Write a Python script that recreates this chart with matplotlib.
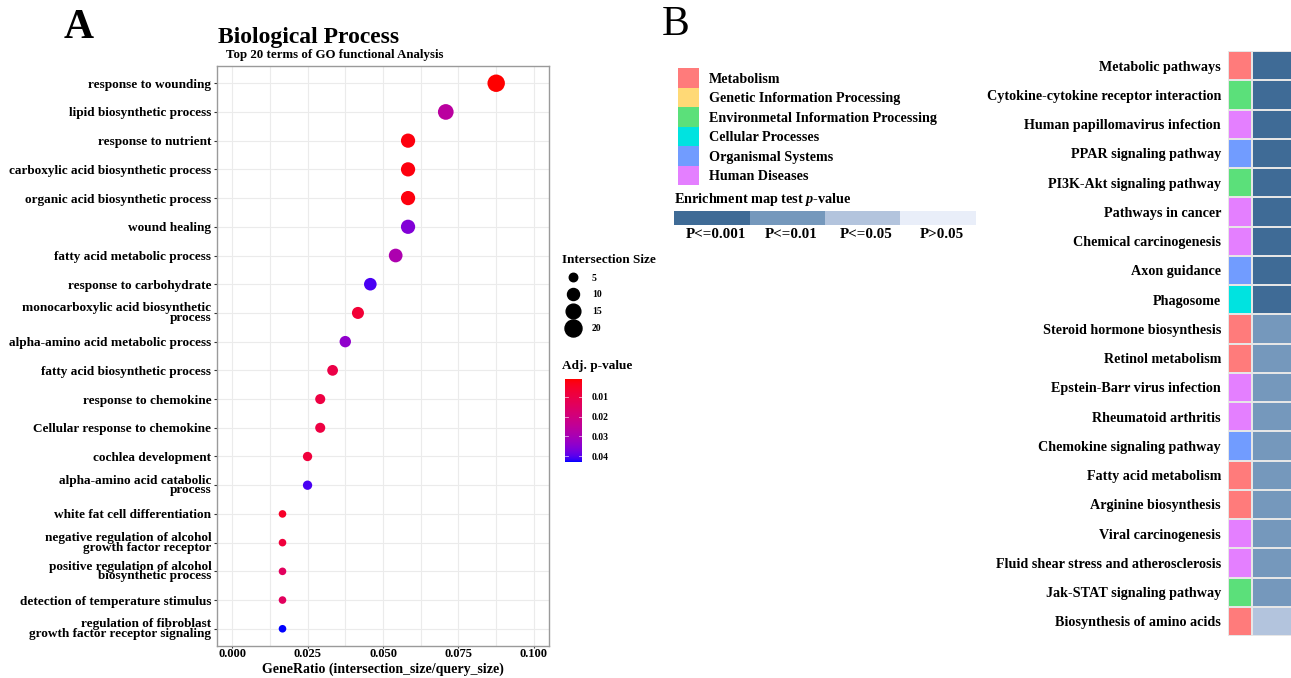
import numpy as np
import matplotlib
matplotlib.use("Agg")
import matplotlib.pyplot as plt
from matplotlib.colors import LinearSegmentedColormap, ListedColormap, Normalize
from matplotlib.lines import Line2D

plt.rcParams['font.family'] = ['Liberation Serif', 'DejaVu Serif']
plt.rcParams['font.weight'] = 'bold'
plt.rcParams['mathtext.fontset'] = 'custom'
plt.rcParams['mathtext.it'] = 'Liberation Serif:italic:bold'
plt.rcParams['mathtext.rm'] = 'Liberation Serif:bold'

# ---------------- Panel A data ----------------
go_terms = [
    "response to wounding",
    "lipid biosynthetic process",
    "response to nutrient",
    "carboxylic acid biosynthetic process",
    "organic acid biosynthetic process",
    "wound healing",
    "fatty acid metabolic process",
    "response to carbohydrate",
    "monocarboxylic acid biosynthetic\nprocess",
    "alpha-amino acid metabolic process",
    "fatty acid biosynthetic process",
    "response to chemokine",
    "Cellular response to chemokine",
    "cochlea development",
    "alpha-amino acid catabolic\nprocess",
    "white fat cell differentiation",
    "negative regulation of alcohol\ngrowth factor receptor",
    "positive regulation of alcohol\nbiosynthetic process",
    "detection of temperature stimulus",
    "regulation of fibroblast\ngrowth factor receptor signaling",
]
gene_ratio = [0.0875, 0.0708, 0.0583, 0.0583, 0.0583, 0.0583, 0.0542, 0.0458,
              0.0417, 0.0375, 0.0333, 0.0292, 0.0292, 0.0250, 0.0250,
              0.0167, 0.0167, 0.0167, 0.0167, 0.0167]
intersection_size = [21, 17, 14, 14, 14, 14, 13, 11, 10, 9, 8, 7, 7, 6, 6, 4, 4, 4, 4, 4]
adj_pvalue = [0.001, 0.026, 0.002, 0.002, 0.002, 0.036, 0.029, 0.041, 0.007, 0.034,
              0.010, 0.009, 0.009, 0.008, 0.041, 0.005, 0.008, 0.014, 0.014, 0.043]
size_legend_values = [5, 10, 15, 20]
pval_ticks = [0.01, 0.02, 0.03, 0.04]
x_ticks = [0.000, 0.025, 0.050, 0.075, 0.100]

# ---------------- Panel B data ----------------
kegg_terms = [
    "Metabolic pathways", "Cytokine-cytokine receptor interaction",
    "Human papillomavirus infection", "PPAR signaling pathway",
    "PI3K-Akt signaling pathway", "Pathways in cancer", "Chemical carcinogenesis",
    "Axon guidance", "Phagosome", "Steroid hormone biosynthesis",
    "Retinol metabolism", "Epstein-Barr virus infection", "Rheumatoid arthritis",
    "Chemokine signaling pathway", "Fatty acid metabolism", "Arginine biosynthesis",
    "Viral carcinogenesis", "Fluid shear stress and atherosclerosis",
    "Jak-STAT signaling pathway", "Biosynthesis of amino acids",
]
categories = ["Metabolism", "Genetic Information Processing",
              "Environmetal Information Processing", "Cellular Processes",
              "Organismal Systems", "Human Diseases"]
category_colors = ["#FF7B7B", "#FFD976", "#5BE07A", "#00E3E0", "#719CFF", "#E47FFF"]
kegg_category = [0, 2, 5, 4, 2, 5, 5, 4, 3, 0, 0, 5, 5, 4, 0, 0, 5, 5, 2, 0]
p_levels = ["P<=0.001", "P<=0.01", "P<=0.05", "P>0.05"]
p_level_colors = ["#3F6B96", "#7598BC", "#B3C4DD", "#E9EEF9"]
kegg_plevel = [0] * 9 + [1] * 10 + [2]


# ---------- ggplot-like Lab gradient red -> blue ----------
def _srgb_to_lab(rgb):
    c = np.array(rgb, dtype=float)
    lin = np.where(c <= 0.04045, c / 12.92, ((c + 0.055) / 1.055) ** 2.4)
    M = np.array([[0.4124, 0.3576, 0.1805], [0.2126, 0.7152, 0.0722], [0.0193, 0.1192, 0.9505]])
    xyz = M @ lin / np.array([0.95047, 1.0, 1.08883])
    f = np.where(xyz > 0.008856, np.cbrt(xyz), 7.787 * xyz + 16 / 116)
    return np.array([116 * f[1] - 16, 500 * (f[0] - f[1]), 200 * (f[1] - f[2])])


def _lab_to_srgb(lab):
    L, a, b = lab
    fy = (L + 16) / 116
    fx = fy + a / 500
    fz = fy - b / 200
    f = np.array([fx, fy, fz])
    xyz = np.where(f ** 3 > 0.008856, f ** 3, (f - 16 / 116) / 7.787) * np.array([0.95047, 1.0, 1.08883])
    Minv = np.array([[3.2406, -1.5372, -0.4986], [-0.9689, 1.8758, 0.0415], [0.0557, -0.2040, 1.0570]])
    lin = np.clip(Minv @ xyz, 0, 1)
    c = np.where(lin <= 0.0031308, 12.92 * lin, 1.055 * lin ** (1 / 2.4) - 0.055)
    return np.clip(c, 0, 1)


lab_a = _srgb_to_lab([1, 0, 0])
lab_b = _srgb_to_lab([0, 0, 1])
stops = np.linspace(0, 1, 64)
cmap_p = LinearSegmentedColormap.from_list(
    "redblue", [_lab_to_srgb(lab_a + t * (lab_b - lab_a)) for t in stops])
norm_p = Normalize(vmin=0.0009, vmax=0.043)

W, H = 1291, 678
fig = plt.figure(figsize=(W / 100, H / 100), dpi=100)


def box(l, t, r, b):
    return [l / W, 1 - b / H, (r - l) / W, (b - t) / H]


# ---------------- Panel A ----------------
ax = fig.add_axes(box(217, 66, 549, 646))
n = len(go_terms)
ypos = np.arange(n)[::-1]
ax.scatter(gene_ratio, ypos, s=[7.5 * v for v in intersection_size],
           c=adj_pvalue, cmap=cmap_p, norm=norm_p, zorder=3, linewidths=0)
ax.set_xlim(-0.005, 0.105)
ax.set_ylim(-0.6, n - 0.4)
ax.set_yticks(ypos)
ax.set_yticklabels(go_terms, fontsize=9.5, linespacing=0.72)
ax.set_xticks(x_ticks)
ax.set_xticklabels([f"{v:.3f}" for v in x_ticks], fontsize=9)
ax.set_xticks(np.arange(0.0125, 0.105, 0.025), minor=True)
ax.grid(True, which='both', color='#EBEBEB', lw=0.8, zorder=0)
ax.set_axisbelow(True)
ax.tick_params(axis='y', which='major', length=2.5, color='#333333', pad=1.5)
ax.tick_params(axis='x', which='major', length=1.5, color='#333333', pad=0)
ax.tick_params(axis='x', which='minor', length=0)
for sp in ax.spines.values():
    sp.set_color('#9A9A9A')
    sp.set_linewidth(1.0)
fig.text(383 / W, 1 - 663 / H, "GeneRatio (intersection_size/query_size)",
         fontsize=10, fontweight='bold', ha='center', va='top')

fig.text(64 / W, 1 - 28 / H, "A", fontsize=30, fontweight='bold', va='center', ha='left')
fig.text(218 / W, 1 - 37 / H, "Biological Process", fontsize=17, fontweight='bold',
         va='center', ha='left')
fig.text(226 / W, 1 - 55 / H, "Top 20 terms of GO functional Analysis", fontsize=9.3,
         fontweight='bold', va='center', ha='left')

# size legend
handles = [Line2D([], [], ls='none', marker='o', color='black',
                  markersize=np.sqrt(7.5 * v)) for v in size_legend_values]
leg = fig.legend(handles, [str(v) for v in size_legend_values], title="Intersection Size",
                 loc='upper left', bbox_to_anchor=(555 / W, 1 - 247 / H), frameon=False,
                 fontsize=7, title_fontsize=9.5, labelspacing=0.8, handletextpad=0.9,
                 handlelength=2.2, borderpad=0.2)
leg._legend_box.align = "left"

# colorbar for Adj. p-value
fig.text(562 / W, 1 - 366 / H, "Adj. p-value", fontsize=9.5, fontweight='bold',
         va='center', ha='left')
cax = fig.add_axes(box(565, 379, 582, 462))
grad = np.linspace(norm_p.vmin, norm_p.vmax, 200).reshape(-1, 1)
cax.imshow(grad, aspect='auto', cmap=cmap_p, norm=norm_p,
           extent=[0, 1, norm_p.vmax, norm_p.vmin])
cax.set_ylim(norm_p.vmax, norm_p.vmin)
cax.set_xticks([])
cax.set_yticks(pval_ticks)
cax.yaxis.tick_right()
cax.set_yticklabels([f"{v:.2f}" for v in pval_ticks], fontsize=7)
cax.tick_params(axis='y', length=0, pad=7)
for t in pval_ticks:
    cax.plot([0, 0.2], [t, t], color='white', lw=0.6, alpha=0.7)
    cax.plot([0.8, 1], [t, t], color='white', lw=0.6, alpha=0.7)
cax.set_xlim(0, 1)
for sp in cax.spines.values():
    sp.set_visible(False)

# ---------------- Panel B ----------------
fig.text(662 / W, 1 - 25 / H, "B", fontsize=30, fontweight='normal', va='center', ha='left')

# category legend
lax = fig.add_axes(box(678, 68, 699, 185))
nc = len(categories)
lax.pcolormesh(np.array([0, 1]), np.arange(nc + 1),
               np.arange(nc)[::-1].reshape(-1, 1),
               cmap=ListedColormap(category_colors), vmin=-0.5, vmax=nc - 0.5)
lax.set_xlim(0, 1)
lax.set_ylim(0, nc)
lax.set_xticks([])
lax.set_yticks(np.arange(nc) + 0.5)
lax.set_yticklabels(categories[::-1], fontsize=10.2)
lax.yaxis.tick_right()
lax.tick_params(axis='y', length=0, pad=7)
for sp in lax.spines.values():
    sp.set_visible(False)

fig.text(674 / W, 1 - 199 / H, r"Enrichment map test $p$-value", fontsize=10.3,
         fontweight='bold', va='center', ha='left')
pax = fig.add_axes(box(674, 211, 976, 225))
npl = len(p_levels)
pax.pcolormesh(np.arange(npl + 1), np.array([0, 1]), np.arange(npl).reshape(1, -1),
               cmap=ListedColormap(p_level_colors), vmin=-0.5, vmax=npl - 0.5)
pax.set_xlim(0, npl)
pax.set_ylim(0, 1)
pax.set_yticks([])
pax.set_xticks(np.arange(npl) + 0.55)
pax.set_xticklabels(p_levels, fontsize=10.8)
pax.tick_params(axis='x', length=0, pad=2)
for sp in pax.spines.values():
    sp.set_visible(False)

# heatmap
hax = fig.add_axes(box(1228, 51, 1300, 636))
nk = len(kegg_terms)
rows = np.arange(nk + 1)
hax.pcolormesh(np.array([0, 1]), rows, np.array(kegg_category).reshape(-1, 1),
               cmap=ListedColormap(category_colors), vmin=-0.5, vmax=nc - 0.5,
               edgecolor='#E6E6E6', linewidth=1.2)
hax.pcolormesh(np.array([1, 3]), rows, np.array(kegg_plevel).reshape(-1, 1),
               cmap=ListedColormap(p_level_colors), vmin=-0.5, vmax=npl - 0.5,
               edgecolor='#E6E6E6', linewidth=1.2)
hax.set_xlim(0, 3)
hax.set_ylim(nk, 0)
hax.set_xticks([])
hax.set_yticks(np.arange(nk) + 0.5)
hax.set_yticklabels(kegg_terms, fontsize=10.2)
hax.tick_params(axis='y', length=0, pad=5)
for sp in hax.spines.values():
    sp.set_visible(False)

fig.savefig("out.png", dpi=100)
